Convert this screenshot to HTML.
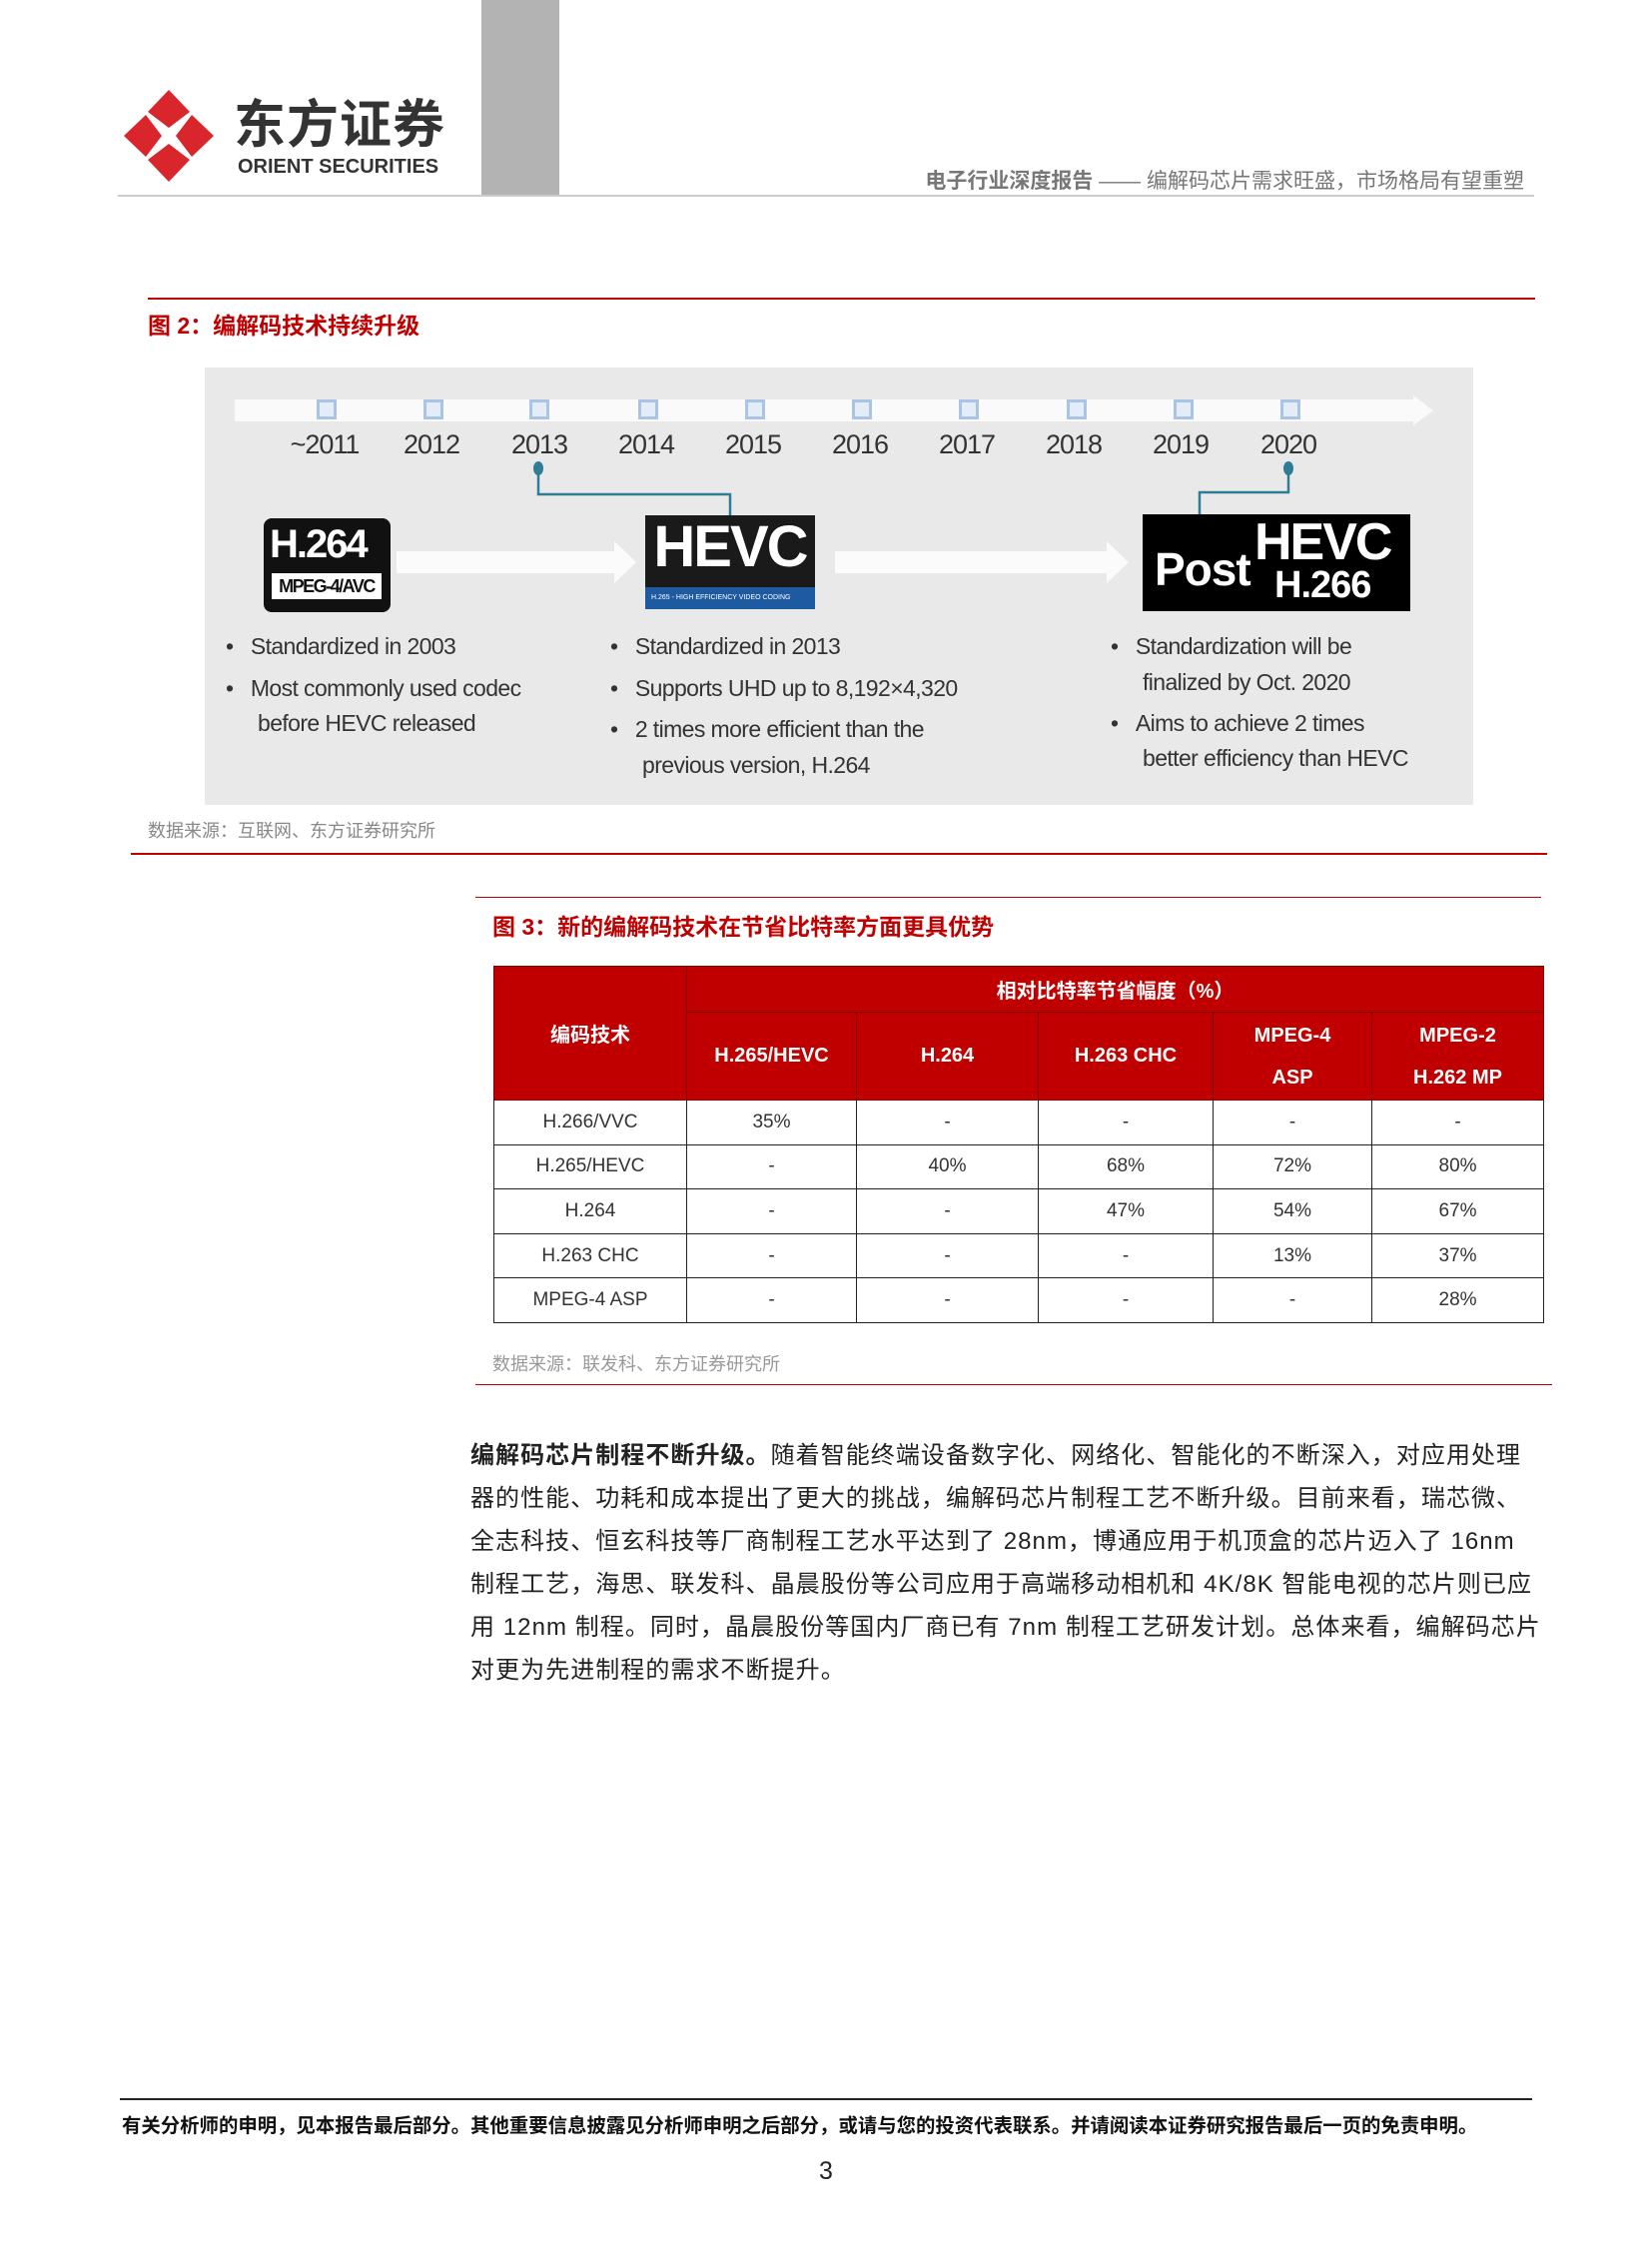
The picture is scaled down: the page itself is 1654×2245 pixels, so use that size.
<!DOCTYPE html>
<html><head><meta charset="utf-8">
<style>
*{margin:0;padding:0;box-sizing:border-box}
body{width:1654px;height:2245px;position:relative;background:#fff;font-family:"Liberation Sans","Noto Sans CJK SC",sans-serif;overflow:hidden}
.a{position:absolute}
.cn{font-family:"Liberation Sans","Noto Sans CJK SC",sans-serif}
.yr{position:absolute;top:430px;width:80px;margin-left:-40px;text-align:center;font-size:27px;color:#333;letter-spacing:-1px}
.sq{position:absolute;top:400px;width:20px;height:20px;margin-left:-10px;border:3px solid #a9c4e4;background:#e3ecf7}
.bl{position:absolute;font-size:23px;color:#333;letter-spacing:-0.6px;white-space:nowrap}
table{border-collapse:collapse;table-layout:fixed}
td{border:1.5px solid #222;text-align:center;font-size:19px;color:#333;height:44.6px}
th{background:#c00000;color:#fff;font-weight:bold;font-size:20px;border:1.5px solid #7a0000;text-align:center}
.p{position:absolute;left:471px;font-size:24px;color:#222;white-space:nowrap;letter-spacing:1.05px}
</style></head><body>
<div class="a" style="left:482px;top:0;width:78px;height:195px;background:#b3b3b3"></div>
<svg class="a" style="left:122px;top:88px" width="94" height="96" viewBox="0 0 94 96">
<g fill="#d9262c">
<polygon points="47,2 68,24 47,40 26,24"/>
<polygon points="47,94 68,72 47,56 26,72"/>
<polygon points="2,48 24,27 40,48 24,69"/>
<polygon points="92,48 70,27 54,48 70,69"/>
</g></svg>
<div class="a cn" style="left:234px;top:100px;font-size:52px;line-height:52px;font-weight:bold;color:#333;letter-spacing:1px">东方证券</div>
<div class="a" style="left:238px;top:156px;font-size:20px;line-height:22px;font-weight:bold;color:#333">ORIENT SECURITIES</div>
<div class="a cn" style="right:128px;top:165px;font-size:21px;color:#777;white-space:nowrap"><b>电子行业深度报告</b> —— 编解码芯片需求旺盛，市场格局有望重塑</div>
<div class="a" style="left:118px;top:195px;width:1418px;height:2px;background:#ccc"></div>

<div class="a" style="left:148px;top:298px;width:1389px;height:2px;background:#c00000"></div>
<div class="a cn" style="left:148px;top:307px;font-size:23px;font-weight:bold;color:#c00000">图 2：编解码技术持续升级</div>
<div class="a" style="left:205px;top:368px;width:1270px;height:438px;background:#e9e9e9"></div>
<div class="a" style="left:235px;top:400px;width:1180px;height:22px;background:#fafafa"></div>
<div class="a" style="left:1415px;top:396px;width:0;height:0;border-left:20px solid #fafafa;border-top:15px solid transparent;border-bottom:15px solid transparent"></div>
<div class="sq" style="left:327px"></div>
<div class="sq" style="left:434px"></div>
<div class="sq" style="left:540px"></div>
<div class="sq" style="left:649px"></div>
<div class="sq" style="left:756px"></div>
<div class="sq" style="left:863px"></div>
<div class="sq" style="left:970px"></div>
<div class="sq" style="left:1078px"></div>
<div class="sq" style="left:1185px"></div>
<div class="sq" style="left:1292px"></div>
<div class="yr" style="left:325px">~2011</div>
<div class="yr" style="left:432px">2012</div>
<div class="yr" style="left:540px">2013</div>
<div class="yr" style="left:647px">2014</div>
<div class="yr" style="left:754px">2015</div>
<div class="yr" style="left:861px">2016</div>
<div class="yr" style="left:968px">2017</div>
<div class="yr" style="left:1075px">2018</div>
<div class="yr" style="left:1182px">2019</div>
<div class="yr" style="left:1290px">2020</div>
<svg class="a" style="left:0;top:0" width="1654" height="620">
<g stroke="#2e7d96" stroke-width="2.5" fill="none">
<polyline points="539,468 539,495 731,495 731,518"/>
<polyline points="1290,468 1290,493 1201,493 1201,517"/>
</g>
<g fill="#2e7d96"><ellipse cx="539" cy="469" rx="5" ry="7"/><ellipse cx="1290" cy="469" rx="5" ry="7"/></g>
<g fill="#fbfbfb">
<rect x="397" y="552" width="218" height="22"/><polygon points="615,542 637,563 615,584"/>
<rect x="836" y="552" width="272" height="22"/><polygon points="1108,542 1130,563 1108,584"/>
</g>
</svg>
<div class="a" style="left:264px;top:519px;width:127px;height:94px;background:#111;border-radius:8px">
<div style="position:absolute;left:6px;top:4px;font-size:40px;font-weight:bold;color:#fff;letter-spacing:-2px">H.264</div>
<div style="position:absolute;left:8px;top:55px;width:110px;height:26px;background:#fff;color:#111;font-size:18px;font-weight:bold;text-align:center;line-height:26px;letter-spacing:-1.5px">MPEG-4/AVC</div>
</div>
<div class="a" style="left:646px;top:516px;width:170px;height:94px;background:#1a1a1a">
<div style="position:absolute;left:0;top:-2px;width:170px;text-align:center;font-size:58px;font-weight:bold;color:#fff;letter-spacing:-2px">HEVC</div>
<div style="position:absolute;left:0;top:72px;width:170px;height:22px;background:#1d5aa0;color:#fff;font-size:7px;line-height:22px;padding-left:6px">H.265 - HIGH EFFICIENCY VIDEO CODING</div>
</div>
<div class="a" style="left:1144px;top:515px;width:268px;height:97px;background:#000">
<div style="position:absolute;left:12px;top:28px;font-size:46px;font-weight:bold;color:#fff;letter-spacing:-1px">Post</div>
<div style="position:absolute;left:112px;top:-2px;font-size:52px;font-weight:bold;color:#fff;letter-spacing:-2px">HEVC</div>
<div style="position:absolute;left:132px;top:50px;font-size:38px;font-weight:bold;color:#fff;letter-spacing:-1px">H.266</div>
</div>
<div class="bl" style="left:226px;top:634px">•&nbsp;&nbsp;&nbsp;Standardized in 2003</div>
<div class="bl" style="left:226px;top:676px">•&nbsp;&nbsp;&nbsp;Most commonly used codec</div>
<div class="bl" style="left:258px;top:711px">before HEVC released</div>
<div class="bl" style="left:611px;top:634px">•&nbsp;&nbsp;&nbsp;Standardized in 2013</div>
<div class="bl" style="left:611px;top:676px">•&nbsp;&nbsp;&nbsp;Supports UHD up to 8,192×4,320</div>
<div class="bl" style="left:611px;top:717px">•&nbsp;&nbsp;&nbsp;2 times more efficient than the</div>
<div class="bl" style="left:643px;top:753px">previous version, H.264</div>
<div class="bl" style="left:1112px;top:634px">•&nbsp;&nbsp;&nbsp;Standardization will be</div>
<div class="bl" style="left:1144px;top:670px">finalized by Oct. 2020</div>
<div class="bl" style="left:1112px;top:711px">•&nbsp;&nbsp;&nbsp;Aims to achieve 2 times</div>
<div class="bl" style="left:1144px;top:746px">better efficiency than HEVC</div>
<div class="a cn" style="left:148px;top:818px;font-size:18px;color:#888">数据来源：互联网、东方证券研究所</div>
<div class="a" style="left:131px;top:854px;width:1418px;height:2px;background:#c00000"></div>

<div class="a" style="left:476px;top:898px;width:1067px;height:1px;background:#c00000"></div>
<div class="a cn" style="left:493px;top:909px;font-size:23px;font-weight:bold;color:#c00000">图 3：新的编解码技术在节省比特率方面更具优势</div>
<table class="a cn" style="left:494px;top:967px;width:1051px">
<colgroup><col style="width:193px"><col style="width:170px"><col style="width:182px"><col style="width:175px"><col style="width:159px"><col style="width:172px"></colgroup>
<tr style="height:46px"><th rowspan="2">编码技术</th><th colspan="5">相对比特率节省幅度（%）</th></tr>
<tr style="height:88px"><th>H.265/HEVC</th><th>H.264</th><th>H.263 CHC</th><th style="line-height:42px">MPEG-4<br>ASP</th><th style="line-height:42px">MPEG-2<br>H.262 MP</th></tr>
<tr><td>H.266/VVC</td><td>35%</td><td>-</td><td>-</td><td>-</td><td>-</td></tr>
<tr><td>H.265/HEVC</td><td>-</td><td>40%</td><td>68%</td><td>72%</td><td>80%</td></tr>
<tr><td>H.264</td><td>-</td><td>-</td><td>47%</td><td>54%</td><td>67%</td></tr>
<tr><td>H.263 CHC</td><td>-</td><td>-</td><td>-</td><td>13%</td><td>37%</td></tr>
<tr><td>MPEG-4 ASP</td><td>-</td><td>-</td><td>-</td><td>-</td><td>28%</td></tr>
</table>
<div class="a cn" style="left:493px;top:1352px;font-size:18px;color:#999">数据来源：联发科、东方证券研究所</div>
<div class="a" style="left:476px;top:1386px;width:1078px;height:1px;background:#c00000"></div>

<div class="p cn" style="top:1437px"><b>编解码芯片制程不断升级。</b>随着智能终端设备数字化、网络化、智能化的不断深入，对应用处理</div>
<div class="p cn" style="top:1480px">器的性能、功耗和成本提出了更大的挑战，编解码芯片制程工艺不断升级。目前来看，瑞芯微、</div>
<div class="p cn" style="top:1523px">全志科技、恒玄科技等厂商制程工艺水平达到了 28nm，博通应用于机顶盒的芯片迈入了 16nm</div>
<div class="p cn" style="top:1566px">制程工艺，海思、联发科、晶晨股份等公司应用于高端移动相机和 4K/8K 智能电视的芯片则已应</div>
<div class="p cn" style="top:1609px">用 12nm 制程。同时，晶晨股份等国内厂商已有 7nm 制程工艺研发计划。总体来看，编解码芯片</div>
<div class="p cn" style="top:1652px">对更为先进制程的需求不断提升。</div>

<div class="a" style="left:120px;top:2101px;width:1414px;height:2px;background:#222"></div>
<div class="a cn" style="left:122px;top:2112px;font-size:19.4px;font-weight:bold;color:#111;white-space:nowrap">有关分析师的申明，见本报告最后部分。其他重要信息披露见分析师申明之后部分，或请与您的投资代表联系。并请阅读本证券研究报告最后一页的免责申明。</div>
<div class="a" style="left:820px;top:2160px;font-size:25px;color:#222">3</div>
</body></html>
